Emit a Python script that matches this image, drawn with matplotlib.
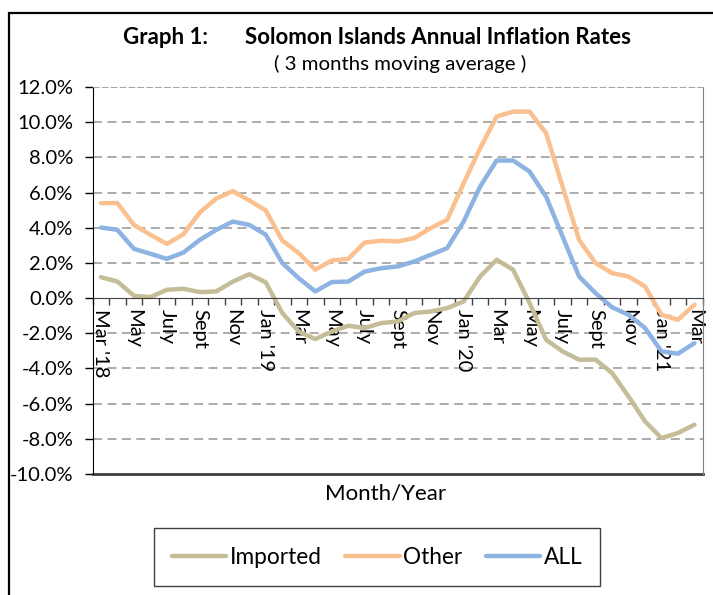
import numpy as np
import matplotlib
matplotlib.use("Agg")
import matplotlib.pyplot as plt
from matplotlib.patches import Rectangle

plt.rcParams['font.family'] = ['Lato', 'DejaVu Sans']

# Monthly points, Mar 2018 .. Mar 2021 (37 months)
imported = [1.19, 0.94, 0.13, 0.06, 0.47, 0.53, 0.34, 0.38, 0.94, 1.36, 0.89, -0.85,
            -1.9, -2.33, -1.9, -1.57, -1.7, -1.42, -1.33, -0.85, -0.76, -0.57, -0.19, 1.23,
            2.18, 1.61, -0.28, -2.37, -3.03, -3.5, -3.5, -4.26, -5.59, -7.01, -7.96, -7.67, -7.2]
other = [5.40, 5.40, 4.16, 3.6, 3.08, 3.63, 4.87, 5.66, 6.08, 5.55, 4.98, 3.27,
         2.56, 1.61, 2.14, 2.23, 3.16, 3.26, 3.22, 3.41, 3.98, 4.45, 6.53, 8.52,
         10.32, 10.6, 10.6, 9.38, 6.34, 3.31, 1.99, 1.42, 1.23, 0.66, -0.95, -1.23, -0.38]
all_items = [4.01, 3.88, 2.80, 2.52, 2.23, 2.59, 3.31, 3.88, 4.35, 4.16, 3.6, 1.99,
             1.13, 0.38, 0.91, 0.94, 1.51, 1.70, 1.80, 2.08, 2.46, 2.84, 4.35, 6.34,
             7.82, 7.82, 7.19, 5.77, 3.5, 1.23, 0.28, -0.52, -0.95, -1.70, -3.03, -3.16, -2.56]
month_labels = ["Mar '18", "May", "July", "Sept", "Nov", "Jan '19", "Mar", "May", "July",
                "Sept", "Nov", "Jan '20", "Mar", "May", "July", "Sept", "Nov", "Jan '21", "Mar"]

W, H = 713, 595
fig = plt.figure(figsize=(W / 100, H / 100), dpi=100)
ax = fig.add_axes([92.7 / W, 1 - 474 / H, 610 / W, 387 / H])

x = np.arange(len(other))
ax.plot(x, imported, color='#C4BD97', lw=3.2, label='Imported', solid_capstyle='round')
ax.plot(x, other, color='#FAC090', lw=3.2, label='Other', solid_capstyle='round')
ax.plot(x, all_items, color='#8DB3E2', lw=3.2, label='ALL', solid_capstyle='round')

ax.set_xlim(-0.5, len(x) - 0.5)
ax.set_ylim(-10, 12)
yt = np.arange(-10, 13, 2)
ax.set_yticks(yt)
ax.set_yticklabels([f"{v:.1f}%" for v in yt], fontsize=14.5)
ax.tick_params(axis='y', direction='out', length=6, pad=8, width=1)
for v in yt[1:-1]:
    if v != 0:
        ax.axhline(v, color='#A6A6A6', lw=1.3, ls=(0, (5, 3)), zorder=0)

# x axis sits at 0%
ax.spines['bottom'].set_position(('data', 0))
ax.spines['bottom'].set_color('#404040')
ax.set_xticks(np.arange(-0.5, len(x), 1))
ax.set_xticklabels([])
ax.tick_params(axis='x', direction='out', length=5, width=1, color='#404040')
ax.set_xticks(x[::2], minor=True)
ax.set_xticklabels(month_labels, minor=True, rotation=270, fontsize=14.5, va='top', ha='center')
ax.tick_params(axis='x', which='minor', length=0, pad=8)

ax.spines['top'].set_color('#A6A6A6')
ax.spines['top'].set_linestyle((0, (5, 3)))
ax.spines['right'].set_color('#808080')
ax.spines['left'].set_color('black')
ax.axhline(-10, color='#404040', lw=2, clip_on=False)

fig.text(123 / W, 1 - 37 / H, "Graph 1:", fontsize=16, fontweight='bold', va='center', ha='left')
fig.text(438 / W, 1 - 37 / H, "Solomon Islands Annual Inflation Rates", fontsize=16,
         fontweight='bold', va='center', ha='center')
fig.text(400 / W, 1 - 64 / H, "( 3 months moving average )", fontsize=14.7, va='center', ha='center')
fig.text(386 / W, 1 - 494 / H, "Month/Year", fontsize=16, va='center', ha='center')

leg = fig.legend(loc='center', bbox_to_anchor=(377 / W, 1 - 557 / H), ncol=3, fontsize=16.3,
                 handlelength=2.4, handletextpad=0.15, columnspacing=1.05, borderpad=0.8,
                 borderaxespad=0, fancybox=False, framealpha=1)
leg.get_frame().set_edgecolor('#404040')
leg.get_frame().set_linewidth(1.0)

fig.patches.append(Rectangle((9 / W, -0.1), 1.2, 1.1 - 13 / H, transform=fig.transFigure,
                             fill=False, edgecolor='black', lw=1.6))

fig.savefig('out.png', dpi=100)
